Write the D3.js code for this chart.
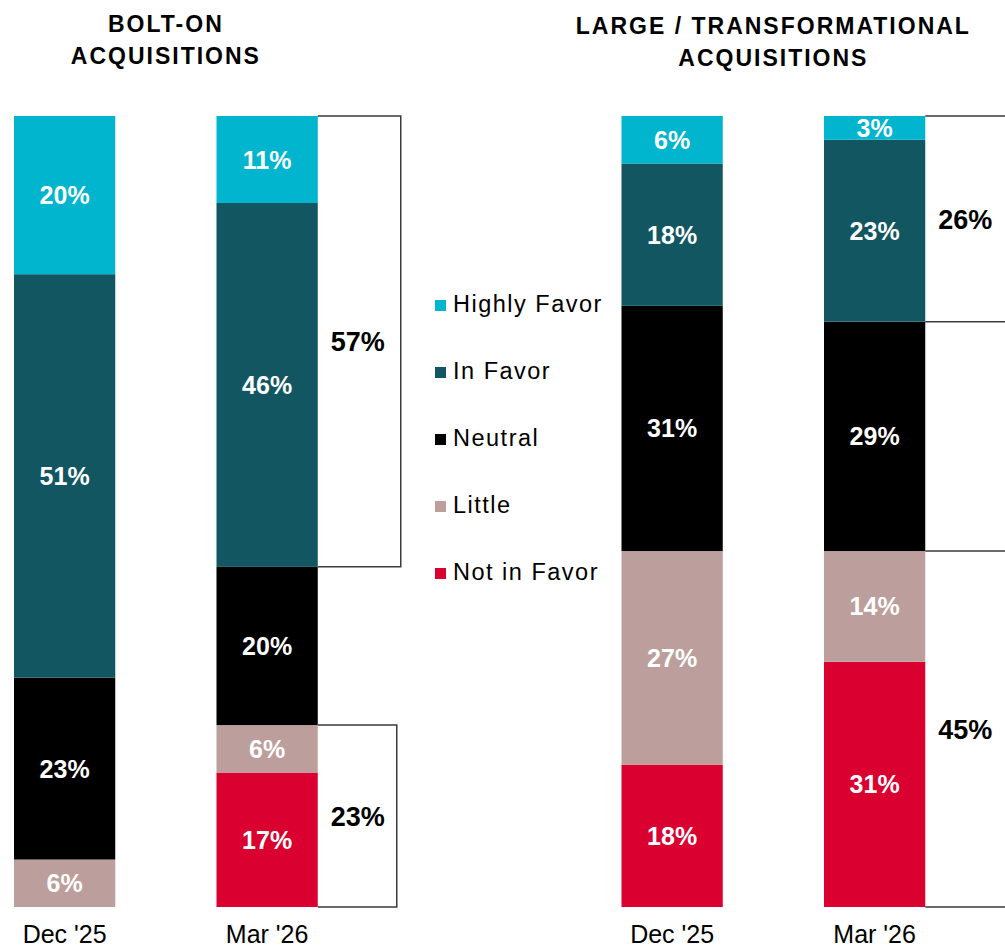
<!DOCTYPE html>
<html lang="en">
<head>
<meta charset="utf-8">
<title>Bolt-on vs Large / Transformational Acquisitions</title>
<script src="https://cdn.jsdelivr.net/npm/d3@7"></script>
<style>
  body { margin: 0; background: #fff; }
  text { font-family: Arial, "Liberation Sans", sans-serif; }
</style>
</head>
<body>
<script>
// data
var categories = ["Highly Favor", "In Favor", "Neutral", "Little", "Not in Favor"];
var colors = ["#00b5cd", "#125661", "#000000", "#bc9f9c", "#da002f"];
var periods = ["Dec '25", "Mar '26", "Dec '25", "Mar '26"];
var titles = [["BOLT-ON", "ACQUISITIONS"], ["LARGE / TRANSFORMATIONAL", "ACQUISITIONS"]];
var boltDec = [20, 51, 23, 6, 0];
var boltMar = [11, 46, 20, 6, 17];
var largeDec = [6, 18, 31, 27, 18];
var largeMar = [3, 23, 29, 14, 31];
// brackets: bar index + which categories they group
var brackets = [
  {bar: 1, cats: [0, 1], w: 83},
  {bar: 1, cats: [3, 4], w: 79},
  {bar: 3, cats: [0, 1], w: 83},
  {bar: 3, cats: [3, 4], w: 83}
];

var width = 1005, height = 947;
var series = [boltDec, boltMar, largeDec, largeMar];

var rows = series.map(function(vals, i) {
  var r = {id: "b" + i};
  categories.forEach(function(c, j) { r[c] = vals[j]; });
  return r;
});

var svg = d3.select("body").append("svg")
  .attr("width", width)
  .attr("height", height);

var x = d3.scaleBand()
  .domain(["b0", "b1", "legend", "b2", "b3"])
  .range([14, 925.25])
  .paddingInner(0.5)
  .paddingOuter(0);

var y = d3.scaleLinear().domain([0, 100]).range([907, 116]);

var color = d3.scaleOrdinal().domain(categories).range(colors);

// stack from the top down: Highly Favor on top
var stack = d3.stack().keys(categories.slice().reverse());
var stacked = stack(rows);

var layer = svg.selectAll("g.layer")
  .data(stacked)
  .enter().append("g")
    .attr("class", "layer")
    .attr("fill", function(d) { return color(d.key); });

layer.selectAll("rect")
  .data(function(d) { return d; })
  .enter().append("rect")
    .attr("x", function(d) { return x(d.data.id); })
    .attr("width", x.bandwidth())
    .attr("y", function(d) { return y(d[1]); })
    .attr("height", function(d) { return y(d[0]) - y(d[1]); });

layer.selectAll("text")
  .data(function(d) { return d.filter(function(s) { return s[1] - s[0] > 0; }); })
  .enter().append("text")
    .attr("x", function(d) { return x(d.data.id) + x.bandwidth() / 2; })
    .attr("y", function(d) { return (y(d[0]) + y(d[1])) / 2 + 9; })
    .attr("text-anchor", "middle")
    .attr("fill", "#fff")
    .style("font-size", "25px")
    .style("font-weight", "bold")
    .text(function(d) { return (d[1] - d[0]) + "%"; });

// brackets on the right of the Mar '26 bars
brackets.forEach(function(b) {
  var vals = series[b.bar];
  var above = d3.sum(vals.slice(0, b.cats[0]));
  var total = d3.sum(b.cats.map(function(c) { return vals[c]; }));
  var top = y(100 - above), bot = y(100 - above - total);
  var x0 = x("b" + b.bar) + x.bandwidth();
  var x1 = x0 + b.w;
  svg.append("path")
    .attr("d", d3.line()([[x0, top], [x1, top], [x1, bot], [x0, bot]]))
    .attr("fill", "none")
    .attr("stroke", "#3a3a3a")
    .attr("stroke-width", 1.5);
  svg.append("text")
    .attr("x", x0 + 40)
    .attr("y", (top + bot) / 2 + 10)
    .attr("text-anchor", "middle")
    .style("font-size", "27px")
    .style("font-weight", "bold")
    .text(total + "%");
});

// period labels
svg.selectAll("text.period")
  .data(periods)
  .enter().append("text")
    .attr("class", "period")
    .attr("x", function(d, i) { return x("b" + i) + x.bandwidth() / 2; })
    .attr("y", 943)
    .attr("text-anchor", "middle")
    .style("font-size", "25px")
    .text(function(d) { return d; });

// titles
titles.forEach(function(t, i) {
  var cx = (x("b" + (2 * i)) + x("b" + (2 * i + 1)) + x.bandwidth()) / 2;
  var base = i == 0 ? 32 : 34;
  svg.append("text")
    .attr("x", cx)
    .attr("text-anchor", "middle")
    .style("font-size", "23px")
    .style("font-weight", "bold")
    .style("letter-spacing", "2px")
    .selectAll("tspan")
    .data(t)
    .enter().append("tspan")
      .attr("x", cx)
      .attr("y", function(d, j) { return base + j * 32; })
      .text(function(d) { return d; });
});

// legend
var ly = d3.scalePoint().domain(categories).range([312, 580]);
var legend = svg.selectAll("g.legend")
  .data(categories)
  .enter().append("g")
    .attr("class", "legend")
    .attr("transform", function(d) { return "translate(435," + ly(d) + ")"; });

legend.append("rect")
  .attr("x", 0)
  .attr("y", -12)
  .attr("width", 11)
  .attr("height", 11)
  .attr("fill", function(d) { return color(d); });

legend.append("text")
  .attr("x", 18)
  .attr("y", 0)
  .style("font-size", "23.5px")
  .style("letter-spacing", "1.5px")
  .text(function(d) { return d; });
</script>
</body>
</html>
